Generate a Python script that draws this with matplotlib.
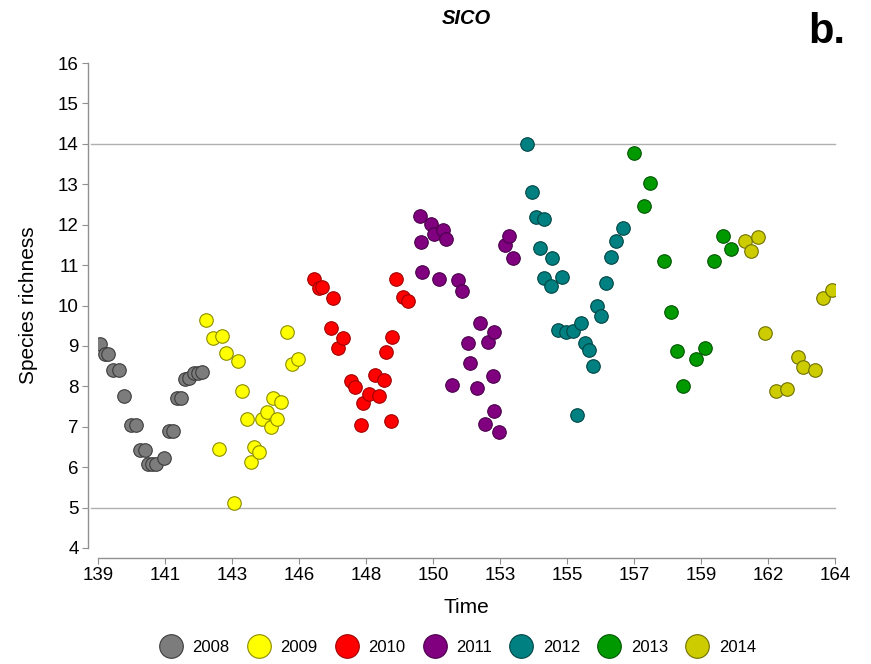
import matplotlib
matplotlib.use("Agg")
import matplotlib.pyplot as plt
import numpy as np

plt.rcParams['font.family'] = ['Liberation Sans', 'DejaVu Sans']

years = ["2008", "2009", "2010", "2011", "2012", "2013", "2014"]

x_2008 = [139.07, 139.24, 139.34, 139.51, 139.71, 139.88, 140.12, 140.29, 140.42, 140.59, 140.70, 140.83,
          140.97, 141.24, 141.41, 141.54, 141.68, 141.82, 141.95, 142.09, 142.26, 142.39, 142.53]
y_2008 = [9.05, 8.80, 8.80, 8.40, 8.40, 7.76, 7.04, 7.04, 6.42, 6.42, 6.08, 6.08,
          6.08, 6.23, 6.89, 6.89, 7.71, 7.71, 8.18, 8.20, 8.33, 8.34, 8.35]

x_2009 = [142.65, 142.91, 143.11, 143.21, 143.34, 143.61, 143.74, 143.89, 144.04, 144.18, 144.30, 144.46,
          144.55, 144.74, 144.87, 144.93, 145.08, 145.21, 145.42, 145.59, 145.77]
y_2009 = [9.64, 9.20, 6.45, 9.25, 8.82, 5.12, 8.63, 7.88, 7.18, 6.14, 6.51, 6.37,
          7.19, 7.36, 6.99, 7.72, 7.18, 7.62, 9.34, 8.55, 8.68]

x_2010 = [146.33, 146.51, 146.61, 146.89, 146.96, 147.15, 147.30, 147.58, 147.73, 147.91, 148.00, 148.18,
          148.40, 148.54, 148.70, 148.77, 148.94, 148.97, 149.10, 149.34, 149.53]
y_2010 = [10.65, 10.43, 10.46, 9.44, 10.18, 8.94, 9.20, 8.14, 7.99, 7.04, 7.58, 7.80,
          8.28, 7.76, 8.16, 8.84, 7.14, 9.23, 10.66, 10.22, 10.11]

x_2011 = [149.92, 149.95, 150.00, 150.30, 150.41, 150.57, 150.69, 150.80, 151.02, 151.21, 151.35, 151.54,
          151.63, 151.86, 151.97, 152.12, 152.24, 152.39, 152.42, 152.44, 152.61, 152.81, 152.93, 153.09]
y_2011 = [12.22, 11.58, 10.82, 12.02, 11.76, 10.66, 11.87, 11.64, 8.04, 10.63, 10.37, 9.06,
          8.57, 7.95, 9.56, 7.08, 9.09, 8.26, 9.34, 7.38, 6.88, 11.50, 11.73, 11.17]

x_2012 = [153.56, 153.71, 153.86, 154.00, 154.13, 154.14, 154.36, 154.41, 154.61, 154.74, 154.87, 155.11,
          155.24, 155.39, 155.53, 155.66, 155.80, 155.94, 156.06, 156.22, 156.40, 156.58, 156.80]
y_2012 = [14.00, 12.80, 12.20, 11.43, 10.69, 12.14, 10.49, 11.17, 9.39, 10.70, 9.34, 9.36,
          7.30, 9.57, 9.08, 8.89, 8.50, 9.99, 9.74, 10.56, 11.19, 11.60, 11.92]

x_2013 = [157.18, 157.52, 157.72, 158.21, 158.44, 158.65, 158.85, 159.28, 159.58, 159.91, 160.19, 160.47]
y_2013 = [13.78, 12.46, 13.04, 11.10, 9.85, 8.88, 8.02, 8.67, 8.96, 11.10, 11.73, 11.41]

x_2014 = [160.95, 161.14, 161.38, 161.63, 162.00, 162.38, 162.73, 162.92, 163.31, 163.60, 163.89]
y_2014 = [11.60, 11.36, 11.70, 9.33, 7.89, 7.94, 8.73, 8.49, 8.40, 10.18, 10.38]

tick_labels = ["139", "141", "143", "146", "148", "150", "153", "155", "157", "159", "162", "164"]
y_ticks = list(range(4, 17))

series_x = [x_2008, x_2009, x_2010, x_2011, x_2012, x_2013, x_2014]
series_y = [y_2008, y_2009, y_2010, y_2011, y_2012, y_2013, y_2014]
faces = ['#7c7c7c', '#ffff00', '#ff0000', '#800080', '#008080', '#009a00', '#cccc00']
edges = ['#3c3c3c', '#8c8c00', '#a00000', '#4a004a', '#004545', '#005500', '#707000']

fig = plt.figure(figsize=(8.71, 6.64), dpi=100)
ax = fig.add_axes([98/871, 1-548/664, 737/871, 485/664])

for xs, ys, fc, ec, yr in zip(series_x, series_y, faces, edges, years):
    ax.scatter(xs, ys, s=95, facecolor=fc, edgecolor=ec, linewidth=0.8, zorder=3, label=yr)

for yv in (5, 14):
    ax.axhline(yv, xmin=-7/737, xmax=1, color='#b0b0b0', lw=1.0, zorder=1, clip_on=False)

ax.set_xlim(139, 164)
ax.set_ylim(4, 16)
ax.set_xticks(np.linspace(139, 164, 12))
ax.set_xticklabels(tick_labels)
ax.set_yticks(y_ticks)

for s in ('top', 'right'):
    ax.spines[s].set_visible(False)
for s in ('left', 'bottom'):
    ax.spines[s].set_position(('outward', 7))
    ax.spines[s].set_color('#909090')
    ax.spines[s].set_linewidth(1.0)
ax.tick_params(axis='both', direction='out', length=4, color='#909090', labelsize=13.5, pad=3)

ax.set_xlabel("Time", fontsize=15, labelpad=10)
ax.set_ylabel("Species richness", fontsize=15, labelpad=14)

fig.text(0.5357, 1-18/664, "SICO", ha='center', va='center', fontsize=14.5,
         fontweight='bold', fontstyle='italic')
fig.text(827/871, 1-32/664, "b.", ha='center', va='center', fontsize=30, fontweight='bold')

handles = [plt.Line2D([0], [0], marker='o', linestyle='', markersize=17,
                      markerfacecolor=fc, markeredgecolor=ec, markeredgewidth=0.8)
           for fc, ec in zip(faces, edges)]
fig.legend(handles, years, loc='center', bbox_to_anchor=(455/871, 1-647/664), ncol=7,
           frameon=False, fontsize=12, handletextpad=0.3, columnspacing=0.75)

fig.savefig("out.png", dpi=100)
